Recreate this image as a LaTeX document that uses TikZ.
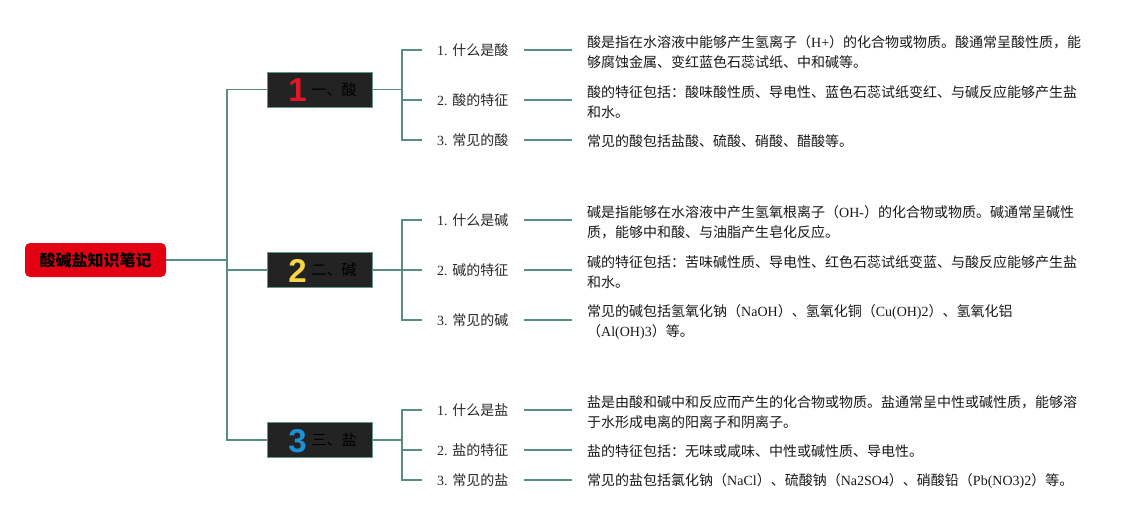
\documentclass[tikz,border=0pt]{standalone}
\usepackage{fontspec}
\setmainfont{Noto Sans CJK SC}
\newfontfamily\latf{Liberation Serif}
\newfontfamily\numf{Liberation Sans Bold}
\definecolor{connc}{RGB}{88,142,130}
\definecolor{rootred}{RGB}{228,0,18}
\definecolor{boxbg}{RGB}{35,35,35}
\definecolor{boxedge}{RGB}{100,150,138}
\definecolor{numred}{RGB}{226,22,40}
\definecolor{numyel}{RGB}{244,214,72}
\definecolor{numblu}{RGB}{30,144,214}
\definecolor{labc}{RGB}{40,40,40}
\definecolor{descc}{RGB}{25,25,25}
\newcommand\mysecnum[2]{\smash{\raisebox{-6.5pt}{\numf\fontsize{33}{33}\selectfont\color{#1}#2}}}
\tikzset{
  conn/.style={draw=connc,line width=1.6pt},
  rootbox/.style={fill=rootred,rounded corners=5pt,minimum width=141pt,minimum height=34pt,inner sep=0pt,font=\fontsize{16}{16}\selectfont\bfseries,text=black},
  secbox/.style={fill=boxbg,draw=boxedge,line width=1pt,minimum width=105pt,minimum height=35pt,inner sep=0pt,font=\fontsize{15}{15}\selectfont,text=black},
  lab/.style={anchor=west,inner xsep=15pt,inner ysep=0pt,font=\fontsize{14}{14}\selectfont,text=labc},
  desc/.style={anchor=west,align=left,inner xsep=15pt,inner ysep=0pt,font=\fontsize{14}{20}\selectfont,text=descc},
}
\begin{document}
\begin{tikzpicture}[x=1pt,y=-1pt]
\useasboundingbox[fill=white] (0,0) rectangle (1147,520);
% root
\node[rootbox] (root) at (95.5,260) {酸碱盐知识笔记};
\coordinate (t) at (227,260);
% section boxes
\node[secbox] (b1) at (319.5,89.5) {\hspace{6pt}\mysecnum{numred}{1}\hspace{5pt}一、酸};
\node[secbox] (b2) at (319.5,270) {\hspace{6pt}\mysecnum{numyel}{2}\hspace{5pt}二、碱};
\node[secbox] (b3) at (319.5,440) {\hspace{6pt}\mysecnum{numblu}{3}\hspace{5pt}三、盐};
\draw[conn] (root.east) -- (t);
\draw[conn] (b1.west) -- (b1.west -| t) -- (b3.west -| t) -- (b3.west);
\draw[conn] (b2.west) -- (b2.west -| t);
\coordinate (k1) at (402,89.5);
\coordinate (k2) at (402,270);
\coordinate (k3) at (402,440);
% labels
\node[lab] (l11) at (422,50) {{\latf 1. }什么是酸};
\node[lab] (l12) at (422,100) {{\latf 2. }酸的特征};
\node[lab] (l13) at (422,140) {{\latf 3. }常见的酸};
\node[lab] (l21) at (422,220) {{\latf 1. }什么是碱};
\node[lab] (l22) at (422,270) {{\latf 2. }碱的特征};
\node[lab] (l23) at (422,320) {{\latf 3. }常见的碱};
\node[lab] (l31) at (422,410) {{\latf 1. }什么是盐};
\node[lab] (l32) at (422,450) {{\latf 2. }盐的特征};
\node[lab] (l33) at (422,480) {{\latf 3. }常见的盐};
% descriptions
\node[desc] (d11) at (572,52) {酸是指在水溶液中能够产生氢离子（{\latf H+}）的化合物或物质。酸通常呈酸性质，能\\够腐蚀金属、变红蓝色石蕊试纸、中和碱等。};
\node[desc] (d12) at (572,102) {酸的特征包括：酸味酸性质、导电性、蓝色石蕊试纸变红、与碱反应能够产生盐\\和水。};
\node[desc] (d13) at (572,141) {常见的酸包括盐酸、硫酸、硝酸、醋酸等。};
\node[desc] (d21) at (572,222) {碱是指能够在水溶液中产生氢氧根离子（{\latf OH-}）的化合物或物质。碱通常呈碱性\\质，能够中和酸、与油脂产生皂化反应。};
\node[desc] (d22) at (572,272) {碱的特征包括：苦味碱性质、导电性、红色石蕊试纸变蓝、与酸反应能够产生盐\\和水。};
\node[desc] (d23) at (572,322) {常见的碱包括氢氧化钠（{\latf NaOH}）、氢氧化铜（{\latf Cu(OH)2}）、氢氧化铝\\（{\latf Al(OH)3}）等。};
\node[desc] (d31) at (572,412) {盐是由酸和碱中和反应而产生的化合物或物质。盐通常呈中性或碱性质，能够溶\\于水形成电离的阳离子和阴离子。};
\node[desc] (d32) at (572,451) {盐的特征包括：无味或咸味、中性或碱性质、导电性。};
\node[desc] (d33) at (572,481) {常见的盐包括氯化钠（{\latf NaCl}）、硫酸钠（{\latf Na2SO4}）、硝酸铅（{\latf Pb(NO3)2}）等。};
% brackets
\draw[conn] (b1.east) -- (k1);
\draw[conn] (l11.west) -- (l11.west -| k1) -- (l13.west -| k1) -- (l13.west);
\draw[conn] (l12.west) -- (l12.west -| k1);
\draw[conn] (b2.east) -- (k2);
\draw[conn] (l21.west) -- (l21.west -| k2) -- (l23.west -| k2) -- (l23.west);
\draw[conn] (l22.west) -- (l22.west -| k2);
\draw[conn] (b3.east) -- (k3);
\draw[conn] (l31.west) -- (l31.west -| k3) -- (l33.west -| k3) -- (l33.west);
\draw[conn] (l32.west) -- (l32.west -| k3);
% label to description
\foreach \g in {1,2,3}{\foreach \i in {1,2,3}{
  \draw[conn] (l\g\i.east) -- (l\g\i.east -| d\g\i.west);
}}
\end{tikzpicture}
\end{document}
